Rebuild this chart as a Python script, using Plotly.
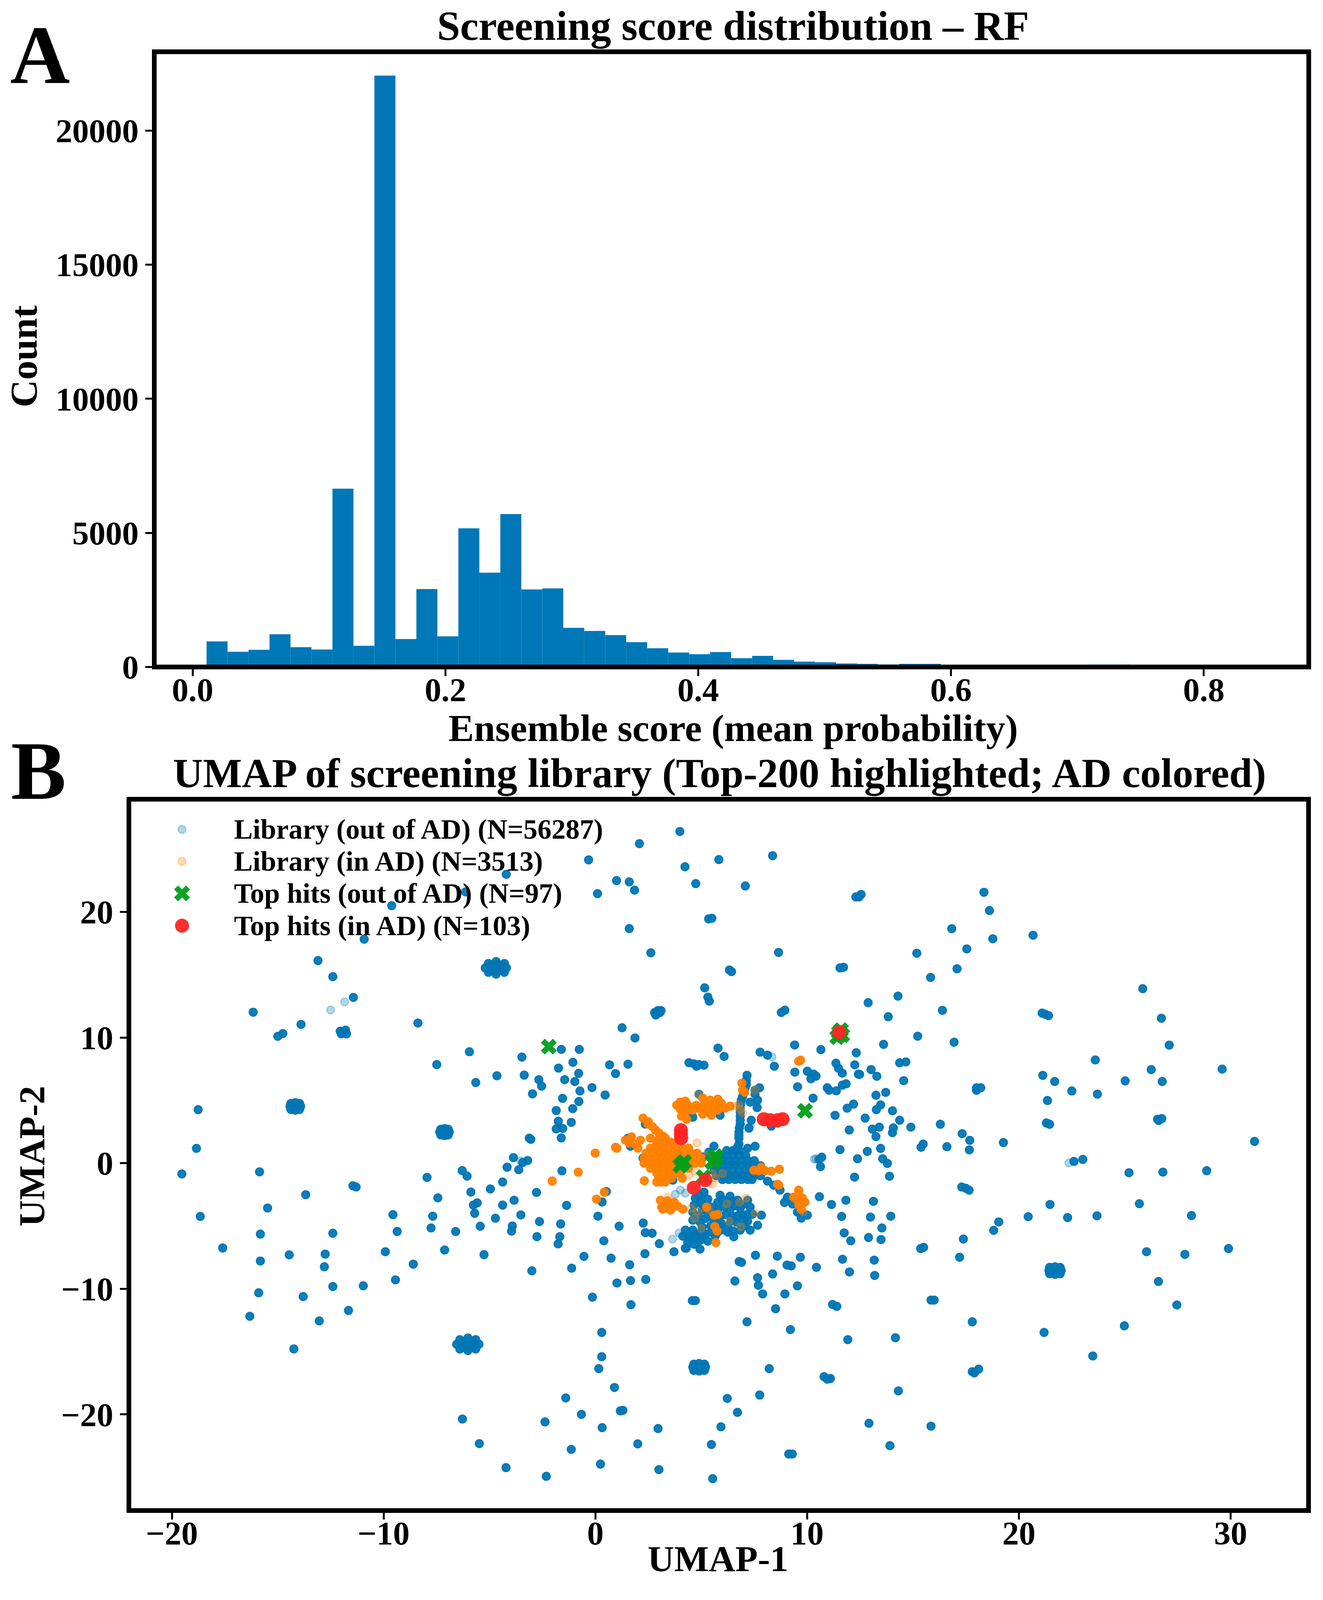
"""Screening score histogram (A) and UMAP of the screening library (B)."""

import numpy as np
import plotly.graph_objects as go

# Positions are read in reference pixels (3387x5046). The browser screen stops at
# 3387x4096, so the figure autosizes to the window and y is squeezed by PAGE_K.
W, H = 3387, 5046
PAGE_K = 4096 / H
BODY_MARGIN = 8
FIG_W, FIG_H = 3371, 4077
FONT = "Liberation Serif"
BLUE = "#0077B6"
ORANGE = "#FF8000"
GREEN = "#009E1A"
RED = "#FF2424"

# Panel A ------------------------------------------------------------------
bin_start = 0.01105
bin_width = 0.0166
score_counts = [955, 569, 642, 1221, 741, 652, 6649, 793, 22050, 1044,
                2907, 1143, 5172, 3518, 5704, 2891, 2933, 1461, 1345, 1188,
                926, 700, 539, 477, 559, 328, 418, 266, 203, 180,
                133, 117, 94, 117, 117, 82, 70, 40, 35, 30,
                30, 25, 90, 90, 20, 15, 15, 10, 10, 5]

# Panel B ------------------------------------------------------------------
# tight clumps in the map
lib_blobs = [
    (-4.69, 15.54), (-5.2, 15.55), (-4.2, 15.55), (-4.69, 16.05), (-4.69, 15.05), (-5.05, 15.9), (-4.3, 15.9), (-5.05, 15.2), (-4.3, 15.2),
    (-4.95, 15.55), (-4.45, 15.55), (-4.69, 15.8), (-4.69, 15.3), (-4.9, 15.75), (-4.45, 15.75), (-4.9, 15.35), (-4.45, 15.35),
    (-14.17, 4.53), (-14.38, 4.75), (-13.97, 4.75), (-14.38, 4.28), (-13.97, 4.28), (-14.17, 4.82), (-14.17, 4.22), (-14.42, 4.53), (-13.92, 4.53),
    (-7.12, 2.48), (-7.3, 2.7), (-6.95, 2.7), (-7.3, 2.25), (-6.95, 2.25), (-7.12, 2.75), (-7.12, 2.2), (-7.35, 2.48), (-6.9, 2.48),
    (-6.02, -14.42), (-6.55, -14.42), (-5.5, -14.42), (-6.02, -13.92), (-6.02, -14.92), (-6.4, -14.05), (-5.65, -14.05), (-6.4, -14.8), (-5.65, -14.8),
    (-6.3, -14.42), (-5.75, -14.42), (-6.02, -14.15), (-6.02, -14.68), (-6.25, -14.2), (-5.8, -14.2), (-6.25, -14.65), (-5.8, -14.65),
    (21.71, -8.55), (21.45, -8.3), (21.95, -8.3), (21.45, -8.8), (21.95, -8.8), (21.71, -8.25), (21.71, -8.85), (21.42, -8.55), (22.0, -8.55),
    (4.9, -16.24), (4.65, -16.0), (5.15, -16.0), (4.65, -16.5), (5.15, -16.5), (4.9, -15.95), (4.9, -16.55), (4.6, -16.24), (5.2, -16.24),
    (2.8, 12.0), (3.1, 12.15), (2.9, 11.9), (3.05, 12.0), (2.95, 12.15), (2.85, 11.8),
    (12.3, 21.2), (12.55, 21.4), (12.45, 21.2),
    (5.35, 19.45), (5.5, 19.5), (11.55, 15.55), (11.72, 15.6),
    (21.1, 11.95), (21.4, 11.75), (21.25, 11.85), (18.0, 5.8), (18.2, 6.0), (18.0, 6.0),
    (21.3, 3.2), (21.45, 3.1), (26.55, 3.5), (26.75, 3.55), (26.6, 3.4),
    (10.8, -17.0), (11.1, -17.15), (10.95, -17.2), (17.8, -16.6), (18.1, -16.4), (17.9, -16.7),
    (17.3, -1.9), (17.65, -2.15), (17.5, -2.0), (15.85, -10.9), (16.0, -10.9),
    (4.58, -10.94), (4.72, -10.94), (11.2, -11.25), (11.4, -11.4), (9.13, -23.16), (9.3, -23.16),
    (-11.45, -1.8), (-11.3, -1.9), (-12.05, 10.5), (-11.8, 10.6), (-11.75, 10.3), (-12.0, 10.3), (-11.9, 10.45),
]
# isolated compounds, read left half of the map
lib_left = [
    (-0.32, 24.15), (-4.21, 23.0), (-6.13, 21.6), (-9.62, 20.5), (-10.92, 17.83), (0.1, 21.46),
    (-13.1, 16.13), (-12.4, 14.85), (-11.43, 13.2), (-16.16, 12.02), (-13.9, 11.05), (-14.76, 10.32),
    (-15.0, 10.1), (-8.38, 11.16), (-18.76, 4.26), (-18.84, 1.18), (-19.53, -0.86), (-15.86, -0.69),
    (-1.61, 9.06), (-0.76, 9.06), (-5.95, 8.87), (-3.47, 8.45), (-7.49, 7.85), (-1.06, 8.03),
    (-1.74, 7.57), (-0.79, 7.15), (-4.65, 6.96), (-3.36, 7.01), (-5.65, 6.42), (-2.67, 6.65),
    (-1.45, 6.65), (-0.97, 6.5), (-2.54, 6.13), (-0.16, 6.02), (-0.73, 5.75), (-2.97, 5.52),
    (-1.55, 5.16), (-0.78, 4.91), (-1.85, 4.19), (-1.07, 4.34), (-1.75, 3.34), (-1.14, 3.25),
    (-1.85, 2.73), (-1.54, 2.77), (-1.61, 2.01), (-3.12, 1.99), (-3.05, 1.9), (-3.87, 0.44),
    (-3.2, 0.21), (-3.43, 0.06), (-4.17, -0.32), (-3.62, -0.52), (-6.29, -0.59), (-6.06, -1.03),
    (-7.95, -1.13), (-1.58, -0.61), (-18.66, -4.24), (-17.6, -6.75), (-13.68, -2.51), (-15.48, -3.57),
    (-4.38, -1.5), (-4.96, -2.05), (-5.88, -2.3), (-7.44, -2.76), (-5.58, -3.16), (-5.76, -3.34),
    (-4.38, -3.34), (-3.84, -2.95), (-2.78, -2.33), (-5.7, -3.99), (-7.68, -4.22), (-9.56, -4.1),
    (-3.52, -4.12), (-4.72, -4.38), (-2.64, -4.65), (-1.36, -3.36), (-5.44, -5.02), (-3.92, -5.0),
    (-3.96, -5.41), (-1.64, -4.84), (-7.76, -5.16), (-9.36, -5.44), (-6.6, -5.44), (-12.4, -5.58),
    (-15.82, -5.65), (-2.76, -5.85), (-1.68, -5.85), (-1.76, -6.43), (-0.54, -7.42), (-1.12, -8.36),
    (-3.0, -8.57), (-5.26, -7.28), (-7.12, -6.91), (-9.92, -7.05), (-14.46, -7.3), (-12.76, -7.24),
    (-15.82, -7.79), (-8.6, -8.04), (-12.8, -8.25), (-9.44, -9.29), (-15.9, -10.32), (-13.8, -10.62),
    (-12.4, -9.82), (-10.96, -9.77), (-0.14, -10.67), (-11.66, -11.73), (-16.32, -12.19), (-13.04, -12.56),
    (-14.24, -14.79), (-1.4, -18.69), (-0.66, -20.0), (-6.28, -20.37), (-2.38, -20.6), (-5.48, -22.33),
    (-1.14, -22.79), (-4.22, -24.24), (-2.32, -24.93), (0.3, -13.48), (0.3, -15.41), (0.16, -16.36),
    (0.9, -17.86), (1.18, -19.72), (1.3, -19.68), (0.32, -21.06), (2.96, -21.13), (2.0, -22.35),
    (0.24, -23.96), (3.0, -24.4), (0.32, -3.09), (0.52, -2.26), (0.12, -4.22), (0.4, -6.18),
    (1.12, -5.02), (2.26, -4.77), (2.36, -5.53), (2.68, -5.58), (3.02, -6.41), (0.74, -7.56),
    (2.34, -7.21), (1.62, -8.09), (1.02, -9.54), (1.66, -9.35), (2.38, -9.26), (1.68, -11.27),
    (2.08, 25.44), (1.0, 22.5), (1.6, 22.4), (1.85, 21.74), (1.6, 18.68), (2.62, 16.75),
]
# isolated compounds, right half of the map
lib_right = [
    (31.13, 1.73), (19.27, 1.64), (17.66, 1.06), (17.68, 1.82), (17.32, 2.35), (16.6, 1.31),
    (15.48, 1.52), (15.38, 1.27), (13.47, 1.18), (12.84, 0.94), (11.55, 1.08), (12.38, 0.35),
    (10.69, 0.48), (10.56, 0.3), (10.63, -0.28), (13.57, 0.35), (13.79, -0.02), (12.24, -1.11),
    (13.89, -1.04), (25.2, -0.76), (26.8, -0.71), (28.87, -0.6), (23.02, 0.3), (22.6, 0.14),
    (10.58, -2.67), (11.15, -3.29), (11.83, -2.95), (13.13, -3.04), (21.47, -3.29), (25.69, -3.23),
    (20.44, -4.26), (22.3, -4.33), (23.69, -4.19), (28.15, -4.17), (19.05, -4.68), (18.81, -5.35),
    (11.63, -4.24), (12.99, -4.29), (13.95, -4.22), (13.53, -5.16), (11.75, -5.55), (12.06, -6.18),
    (12.9, -5.92), (13.49, -6.08), (17.38, -6.04), (15.36, -6.8), (15.5, -6.7), (17.2, -7.49),
    (26.03, -7.05), (27.84, -7.26), (29.9, -6.8), (11.67, -7.65), (13.17, -7.72), (12.0, -8.66),
    (13.19, -8.94), (26.59, -9.42), (27.46, -11.29), (24.98, -12.95), (21.19, -13.48), (17.8, -12.63),
    (23.49, -15.35), (14.17, -13.9), (11.92, -14.05), (9.21, -13.25), (7.16, -12.63), (9.54, -9.77),
    (8.95, -10.41), (7.9, -10.41), (8.51, -11.59), (7.7, -9.72), (7.66, -9.12), (8.37, -8.82),
    (6.59, -9.38), (6.79, -7.83), (6.9, -7.9), (7.56, -7.33), (8.59, -7.4), (9.05, -8.11),
    (9.25, -8.18), (9.68, -7.49), (10.44, -8.29), (8.21, -16.36), (14.31, -18.13), (6.23, -18.73),
    (7.76, -18.46), (6.71, -19.84), (5.93, -20.99), (12.92, -20.71), (15.85, -20.94), (5.48, -22.4),
    (13.91, -22.49), (5.54, -25.12), (3.71, -7.05), (4.29, -6.77), (4.94, -6.84), (8.93, -3.13),
    (3.99, 26.41), (5.83, 24.17), (8.37, 24.48), (4.23, 23.6), (4.74, 22.26), (7.08, 22.07),
    (18.35, 21.57), (18.61, 20.12), (16.83, 18.67), (18.77, 17.87), (20.67, 18.15), (17.54, 17.06),
    (15.18, 16.72), (8.65, 16.78), (17.08, 15.48), (15.83, 14.79), (6.33, 15.38), (6.43, 15.25),
    (25.85, 13.89), (14.29, 13.3), (12.88, 12.78), (16.39, 12.17), (13.83, 11.66), (26.73, 11.54),
    (15.22, 10.11), (16.94, 9.63), (13.61, 9.46), (27.1, 9.4), (23.61, 8.22), (13.02, 7.45),
    (12.48, 7.07), (13.29, 6.92), (14.37, 7.99), (14.66, 8.06), (26.25, 7.45), (29.6, 7.49),
    (21.13, 6.99), (21.69, 6.5), (25.02, 6.55), (26.77, 6.5), (14.56, 6.57), (22.5, 5.75),
    (23.71, 5.5), (13.71, 5.64), (13.25, 5.41), (21.35, 4.99), (13.47, 4.64), (13.27, 4.26),
    (14.03, 4.17), (12.74, 3.59), (14.37, 3.42), (16.29, 3.1), (13.08, 2.71), (13.41, 2.87),
    (14.9, 2.87), (14.07, 2.81), (14.03, 2.43), (13.25, 2.12),
    (5.16, 13.96), (5.31, 13.22), (5.38, 12.9), (8.95, 12.18), (8.78, 12.0), (1.26, 10.78),
    (1.87, 9.97), (5.79, 9.16), (6.08, 8.5), (7.78, 8.84), (8.13, 8.6), (9.41, 9.41),
    (10.65, 9.04), (0.67, 7.83), (1.54, 7.88), (0.95, 7.13), (0.46, 5.43), (4.42, 8.0),
    (4.66, 7.91), (4.89, 7.85), (5.13, 7.8), (4.78, 7.72), (8.45, 7.72), (7.16, 7.0),
    (7.13, 6.6), (7.75, 6.0), (7.54, 5.81), (9.42, 7.25), (9.55, 6.08), (10.01, 7.32),
    (10.31, 7.09), (10.42, 6.93), (10.18, 6.72), (11.36, 7.96), (11.48, 7.56), (11.66, 7.17),
    (12.25, 7.83), (12.32, 8.79), (12.42, 7.09), (10.28, 5.18), (10.95, 6.0), (11.04, 5.81),
    (11.38, 5.76), (11.66, 6.21), (11.84, 6.32), (11.89, 4.38), (12.19, 4.7), (11.32, 3.81),
    (11.99, 2.64), (7.64, 4.43),
]
# dense centre of the map
lib_core = [
    (7.13, 6.29), (7.07, 5.95), (7.01, 5.65), (6.95, 5.3), (6.89, 5.02), (6.86, 4.7), (6.84, 4.38), (6.84, 4.05),
    (6.84, 3.74), (6.84, 3.42), (6.84, 3.11), (6.8, 2.8), (6.78, 2.47), (6.78, 2.2), (6.78, 1.99), (6.78, 1.51),
    (6.72, 1.3), (6.66, 1.04), (7.54, 1.35), (7.19, 1.19), (7.36, 3.42), (7.66, 5.02), (7.31, 4.86), (7.54, 5.49),
    (6.2, 1.0), (6.5, 1.0), (6.8, 1.0), (5.9, 0.6), (6.2, 0.6), (6.5, 0.6), (6.8, 0.6), (7.1, 0.6),
    (5.7, 0.2), (6.0, 0.2), (6.3, 0.2), (6.6, 0.2), (6.9, 0.2), (7.2, 0.2), (7.5, 0.2),
    (5.7, -0.2), (6.0, -0.2), (6.3, -0.2), (6.6, -0.2), (6.9, -0.2), (7.2, -0.2), (7.5, -0.2), (7.8, -0.2),
    (5.6, -0.6), (5.9, -0.6), (6.2, -0.6), (6.5, -0.6), (6.8, -0.6), (7.1, -0.6), (7.4, -0.6), (7.7, -0.6), (8.0, -0.6),
    (5.7, -1.0), (6.0, -1.0), (6.3, -1.0), (6.6, -1.0), (6.9, -1.0), (7.2, -1.0), (7.5, -1.0), (7.8, -1.0),
    (6.0, -1.3), (6.3, -1.3), (6.6, -1.3), (6.9, -1.3), (7.2, -1.3), (7.4, -1.3), (5.6, 1.35), (5.36, 0.88), (5.1, 0.5),
    (8.13, -1.43), (8.42, -1.75), (8.72, -2.15), (9.07, -2.71), (9.31, -3.26), (9.54, -3.9), (9.72, -4.38), (10.01, -4.14),
    (4.72, -2.79), (5.13, -2.31), (5.31, -2.87), (4.66, -3.34), (5.07, -3.34), (5.89, -2.55), (6.36, -2.63), (5.78, -3.11),
    (6.25, -3.11), (6.72, -2.95), (7.19, -2.95), (7.31, -3.5), (6.84, -3.58), (6.36, -3.66), (5.78, -3.74), (4.6, -3.9),
    (5.31, -4.06), (5.89, -4.22), (6.48, -4.22), (6.95, -4.14), (7.42, -4.06), (7.84, -4.14), (6.66, -4.7), (7.19, -4.62),
    (7.66, -4.94), (6.25, -5.02), (5.78, -4.86), (4.6, -4.54), (4.95, -4.7), (6.84, -5.33), (7.31, -5.33), (6.25, -5.49),
    (5.66, -5.81), (5.19, -5.65), (4.6, -5.33), (4.25, -5.33), (4.13, -5.81), (4.54, -5.89), (4.95, -6.13), (5.31, -6.21),
    (5.78, -5.49), (4.25, -6.77), (4.36, -6.29), (4.66, -6.45), (6.54, -5.86),
    (4.9, -2.6), (5.0, -3.0), (6.0, -2.9), (6.5, -3.0), (6.95, -3.3), (6.55, -3.4), (6.1, -3.45), (5.5, -3.5),
    (5.05, -3.7), (4.85, -4.2), (5.2, -4.4), (5.6, -4.5), (6.15, -4.1), (6.7, -4.2), (7.15, -4.1), (7.0, -4.6),
    (6.4, -4.6), (5.95, -4.8), (5.45, -5.0), (5.05, -5.1), (4.8, -5.6), (5.0, -5.6), (5.45, -5.5), (6.0, -5.3),
    (6.5, -5.4), (7.05, -5.0), (4.4, -5.7), (4.7, -6.0), (5.1, -6.0),
    (4.89, 5.49), (5.89, 3.82), (4.6, 3.66), (8.31, 2.95), (7.25, 2.79), (1.66, 1.35), (1.54, 1.99), (2.36, 3.11),
    (2.25, 0.4), (3.66, -1.35), (8.0, 3.3), (8.6, 3.2),
]
# faint compounds drawn once
lib_faint = [
    (-11.84, 12.84), (-12.5, 12.2), (-3.53, 0.17), (10.42, 0.35), (22.36, 0.02), (8.34, 8.47),
    (4.01, -2.14), (3.78, -2.47), (4.25, -2.39), (3.64, -6.05), (3.95, -5.57), (10.34, 0.32),
    (7.31, 2.95),
]
lib_in = [
    (3.84, 4.62), (4.01, 4.86), (4.25, 4.94), (4.36, 4.62), (4.01, 4.3), (4.25, 4.06), (4.07, 3.74), (4.31, 3.5),
    (4.6, 4.22), (4.84, 4.38), (5.07, 5.18), (5.19, 4.78), (5.42, 5.02), (5.78, 5.1), (5.95, 4.78), (5.54, 4.38),
    (5.78, 4.22), (6.13, 4.38), (5.31, 4.06), (5.07, 3.9), (5.48, 3.82), (6.36, 4.54),
    (4.2, 4.5), (4.5, 4.4), (4.75, 4.6), (5.05, 4.5), (5.3, 4.5), (5.6, 4.7), (5.85, 4.45), (4.15, 4.2), (4.05, 4.6),
    (6.92, 6.37), (6.95, 5.81), (7.05, 5.65), (9.69, 8.2), (9.6, 8.12),
    (2.25, 3.58), (2.48, 3.11), (2.84, 2.63), (3.19, 2.15), (3.54, 1.67), (3.89, 1.19), (2.6, 1.99), (2.95, 1.83),
    (2.5, 3.3), (2.7, 2.9), (3.0, 2.4), (3.3, 2.0), (1.66, 1.99), (1.42, 1.83), (2.13, 1.83), (2.01, 1.19), (1.7, 2.1),
    (1.9, 1.5), (1.6, 1.6), (1.01, 1.19), (0.95, 1.27), (-0.01, 0.8),
    (2.9, 1.6), (3.2, 1.6), (3.5, 1.6), (3.8, 1.6), (2.6, 1.2), (2.9, 1.2), (3.2, 1.2), (3.5, 1.2), (3.8, 1.2), (4.1, 1.2), (4.4, 1.2),
    (2.4, 0.8), (2.7, 0.8), (3.0, 0.8), (3.3, 0.8), (3.6, 0.8), (3.9, 0.8), (4.2, 0.8), (4.5, 0.8), (4.8, 0.8),
    (2.3, 0.4), (2.6, 0.4), (2.9, 0.4), (3.2, 0.4), (3.5, 0.4), (3.8, 0.4), (4.1, 0.4), (4.4, 0.4), (4.7, 0.4), (5.0, 0.4),
    (2.3, 0.0), (2.6, 0.0), (2.9, 0.0), (3.2, 0.0), (3.5, 0.0), (3.8, 0.0), (4.1, 0.0), (4.4, 0.0), (4.7, 0.0), (5.0, 0.0),
    (2.6, -0.4), (2.9, -0.4), (3.2, -0.4), (3.5, -0.4), (3.8, -0.4), (4.1, -0.4), (4.4, -0.4),
    (2.9, -0.8), (3.2, -0.8), (3.5, -0.8), (3.8, -0.8), (4.0, -0.8), (3.0, -1.2), (3.3, -1.2), (3.6, -1.2), (4.1, -1.2),
    (2.9, -1.5), (3.1, -1.5), (3.3, -1.5), (2.31, -1.4),
    (-0.81, -0.72), (-2.04, -1.42), (0.05, -2.87), (0.42, -2.31),
    (7.48, -0.56), (7.83, -0.32), (7.7, -0.6), (8.0, -0.6), (8.31, -0.64), (8.69, -0.48), (8.66, -1.75), (8.6, -1.68), (9.6, -2.15), (9.36, -2.71),
    (9.78, -2.79), (9.72, -3.26), (9.54, -2.95), (9.89, -3.11), (9.72, -3.66), (9.6, -2.5), (9.6, -3.3),
    (3.07, -2.95), (3.13, -3.5), (3.42, -3.26), (3.54, -3.74), (3.89, -3.42), (4.13, -3.66), (3.19, -3.66), (3.72, -3.11),
    (3.4, -3.0), (3.7, -3.45), (5.25, -3.5), (5.6, -4.14), (5.78, -4.09), (5.64, -5.05), (5.75, -5.41), (5.69, -6.32),
]
# single in-domain compounds sitting on top of the blue points
lib_in_thin = [
    (6.6, 4.54), (6.78, 4.67), (6.95, 4.01), (6.84, 4.3), (4.89, 5.46), (7.54, 5.81), (3.42, -2.74), (4.52, -3.61),
    (5.33, -3.66), (4.84, -3.82), (4.69, -4.38), (6.22, -3.23), (6.81, -3.11), (7.11, -2.79), (7.54, -3.98), (6.31, -4.62),
    (6.86, -5.05), (4.99, -5.18), (9.81, -3.87), (4.42, -0.96), (4.72, -0.64), (6.01, -0.84), (5.66, -1.19), (5.52, -0.84),
    (5.52, -1.67), (4.8, 1.62), (5.28, 0.64),
]
hits_out = [
    (-2.2, 9.28), (9.9, 4.17), (11.6, 10.59), (11.42, 10.03), (11.66, 10.19), (11.5, 10.4), (4.08, -0.05), (4.01, -0.2),
    (4.19, 0.1), (5.66, 0.56), (5.52, 0.08), (5.72, 0.48), (5.11, -1.11),
]
hits_in = [
    (11.52, 10.43), (4.04, 2.63), (4.05, 1.99), (4.04, 2.31), (7.95, 3.5), (8.25, 3.42), (8.6, 3.42), (8.84, 3.5),
    (5.19, -1.35), (4.65, -1.96),
]

lib_solid = lib_blobs + lib_left + lib_right + lib_core
legend_names = ["Library (out of AD) (N=56287)", "Library (in AD) (N=3513)",
                "Top hits (out of AD) (N=97)", "Top hits (in AD) (N=103)"]
legend_px_y = [2645, 2747, 2849, 2952]
legend_marker_px_x = 466
legend_text_px_x = 598

TICK_FONT = dict(family=FONT, size=85, color="black", weight="bold")
TITLE_SIZE = 106
LABEL_SIZE = 98
UMAP_LABEL_SIZE = 94
LETTER_SIZE = 212
LEGEND_SIZE = 72


def _rgba(hex_color, a):
    h = hex_color.lstrip("#")
    return f"rgba({int(h[0:2],16)},{int(h[2:4],16)},{int(h[4:6],16)},{a})"


def pts(points, stack=1):
    arr = np.repeat(np.array(points), stack, axis=0)
    return arr[:, 0], arr[:, 1]


def lib_marker(color):
    return dict(size=20, color=_rgba(color, 0.3), line=dict(color=_rgba(color, 0.3), width=3))


def hit_marker(color, symbol):
    return dict(size=36, color=_rgba(color, 0.95), symbol=symbol, line=dict(width=0))


def fx(px):
    return (px - BODY_MARGIN) / FIG_W


def fy_page(py):
    return 1 - (py - BODY_MARGIN) / FIG_H


def fy(ref_py):
    return fy_page(ref_py * PAGE_K)


def bold(size):
    return dict(family=FONT, size=size, color="black", weight="bold")


def text_on_baseline(text, px, base_py, size, xanchor="center"):
    # base_py is the baseline in page pixels; Liberation Serif descends 0.216 em
    return dict(text=text, x=fx(px), y=fy_page(base_py + 0.216 * size), xref="paper", yref="paper", showarrow=False,
                font=bold(size), xanchor=xanchor, yanchor="bottom", borderpad=0)


def text_centred(text, px, ref_py, size, xanchor="center", angle=0):
    return dict(text=text, x=fx(px), y=fy(ref_py), xref="paper", yref="paper", showarrow=False, textangle=angle,
                font=bold(size), xanchor=xanchor, yanchor="middle", borderpad=0)


fig = go.Figure()

edges = bin_start + bin_width * np.arange(len(score_counts))
fig.add_trace(go.Bar(x=edges, y=score_counts, width=bin_width, offset=0, marker=dict(color=BLUE, line=dict(width=0)),
                     xaxis="x", yaxis="y", showlegend=False, name="Count"))

x, y = pts(lib_solid, 8)
fig.add_trace(go.Scatter(x=x, y=y, mode="markers", marker=lib_marker(BLUE), xaxis="x2", yaxis="y2",
                         name=legend_names[0], showlegend=False))
x, y = pts(lib_faint, 1)
fig.add_trace(go.Scatter(x=x, y=y, mode="markers", marker=lib_marker(BLUE), xaxis="x2", yaxis="y2",
                         name=legend_names[0], showlegend=False))
x, y = pts(lib_in, 8)
fig.add_trace(go.Scatter(x=x, y=y, mode="markers", marker=lib_marker(ORANGE), xaxis="x2", yaxis="y2",
                         name=legend_names[1], showlegend=False))
x, y = pts(lib_in_thin, 1)
fig.add_trace(go.Scatter(x=x, y=y, mode="markers", marker=lib_marker(ORANGE), xaxis="x2", yaxis="y2",
                         name=legend_names[1], showlegend=False))
x, y = pts(hits_out)
fig.add_trace(go.Scatter(x=x, y=y, mode="markers", marker=hit_marker(GREEN, "x"), xaxis="x2", yaxis="y2",
                         name=legend_names[2], showlegend=False))
x, y = pts(hits_in)
fig.add_trace(go.Scatter(x=x, y=y, mode="markers", marker=hit_marker(RED, "circle"), xaxis="x2", yaxis="y2",
                         name=legend_names[3], showlegend=False))

A_L, A_R, A_T, A_B = 395, 3350.5, 165, 2127
B_L, B_R, B_T, B_B = 330, 3350, 2548.5, 4817

# plotly caps legend glyphs at 16px, so the key is drawn by hand in reference pixels
key_markers = [lib_marker(BLUE), lib_marker(ORANGE), hit_marker(GREEN, "x"), hit_marker(RED, "circle")]
for name, py, marker in zip(legend_names, legend_px_y, key_markers):
    fig.add_trace(go.Scatter(x=[legend_marker_px_x], y=[py], mode="markers", marker=marker, xaxis="x3", yaxis="y3",
                             name=name, showlegend=False, hoverinfo="skip"))

axis_style = dict(showgrid=False, zeroline=False, showline=False, ticks="outside", ticklen=22, tickwidth=5,
                  tickcolor="black", tickfont=TICK_FONT)

fig.update_layout(
    margin=dict(l=0, r=0, t=0, b=0), paper_bgcolor="white", plot_bgcolor="white",
    barmode="overlay", showlegend=False,
    xaxis=dict(domain=[fx(A_L), fx(A_R)], range=[-0.0303, 0.8830], tickmode="linear", tick0=0, dtick=0.2, tickformat=".1f",
               ticklabelstandoff=-38, anchor="y", **axis_style),
    yaxis=dict(domain=[fy(A_B), fy(A_T)], range=[0, 22936], tickmode="linear", tick0=0, dtick=5000, tickformat="d",
               anchor="x", **axis_style),
    xaxis2=dict(domain=[fx(B_L), fx(B_R)], range=[-22.03, 33.68], tickmode="linear", tick0=0, dtick=10,
                ticklabelstandoff=-38, anchor="y2", **axis_style),
    yaxis2=dict(domain=[fy(B_B), fy(B_T)], range=[-27.66, 28.98], tickmode="linear", tick0=0, dtick=10,
                anchor="x2", **axis_style),
    xaxis3=dict(range=[B_L, B_R], visible=False, anchor="y3", overlaying="x2"),
    yaxis3=dict(range=[B_B, B_T], visible=False, anchor="x3", overlaying="y2"),
    shapes=[
        dict(type="rect", xref="x domain", yref="y domain", x0=0, x1=1, y0=0, y1=1, line=dict(color="black", width=12), layer="above"),
        dict(type="rect", xref="x2 domain", yref="y2 domain", x0=0, x1=1, y0=0, y1=1, line=dict(color="black", width=12), layer="above"),
    ],
    annotations=[
        text_on_baseline("Screening score distribution – RF", 1877, 104, TITLE_SIZE),
        text_on_baseline("UMAP of screening library (Top-200 highlighted; AD colored)", 1842, 2039, TITLE_SIZE),
        text_on_baseline("A", 25, 216, LETTER_SIZE, xanchor="left"),
        text_on_baseline("B", 27, 2069, LETTER_SIZE, xanchor="left"),
        text_on_baseline("Ensemble score (mean probability)", 1877, 1919, LABEL_SIZE),
        text_on_baseline("UMAP-1", 1838, 4068, UMAP_LABEL_SIZE),
        text_centred("Count", 61, 1136, LABEL_SIZE, angle=-90),
        text_centred("UMAP-2", 81, 3687, UMAP_LABEL_SIZE, angle=-90),
    ] + [text_centred(n, legend_text_px_x, py, LEGEND_SIZE, xanchor="left")
         for n, py in zip(legend_names, legend_px_y)],
)

fig.write_html("out.html")
